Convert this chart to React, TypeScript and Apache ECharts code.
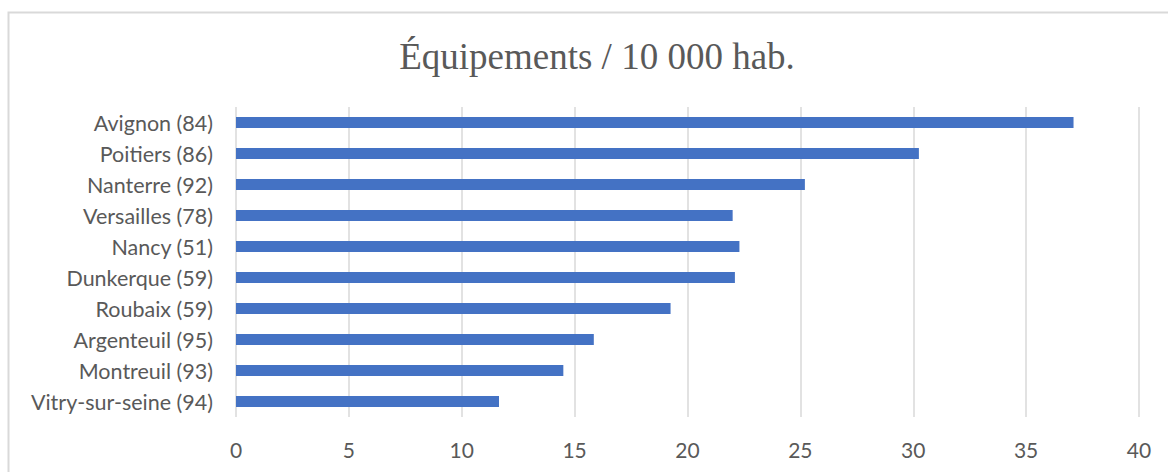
import React, { useEffect, useRef } from "react";
import * as echarts from "echarts";

const TITLE = "Équipements / 10 000 hab.";
const categories = [
  "Avignon (84)",
  "Poitiers (86)",
  "Nanterre (92)",
  "Versailles (78)",
  "Nancy (51)",
  "Dunkerque (59)",
  "Roubaix (59)",
  "Argenteuil (95)",
  "Montreuil (93)",
  "Vitry-sur-seine (94)",
];
const values = [37.1, 30.25, 25.2, 22.0, 22.3, 22.1, 19.25, 15.85, 14.5, 11.65];
const xMin = 0;
const xMax = 40;
const xStep = 5;

export default function App() {
  const ref = useRef<HTMLDivElement>(null);
  useEffect(() => {
    if (!ref.current) return;
    const chart = echarts.init(ref.current, undefined, { renderer: "svg" });
    chart.setOption({
      animation: false,
      backgroundColor: "#ffffff",
      title: {
        text: TITLE,
        left: 592,
        textAlign: "center",
        top: 33,
        textStyle: {
          fontFamily: "Liberation Serif",
          fontSize: 37,
          fontWeight: "normal",
          color: "#595959",
        },
      },
      graphic: [
        {
          type: "rect",
          shape: { x: 8.5, y: 12.5, width: 1200, height: 500 },
          style: { fill: "none", stroke: "#d9d9d9", lineWidth: 2 },
          silent: true,
          z: -1,
        },
      ],
      grid: { left: 236, right: 29, top: 107, bottom: 55, containLabel: false },
      xAxis: {
        type: "value",
        min: xMin,
        max: xMax,
        interval: xStep,
        axisLine: { show: false },
        axisTick: { show: false },
        splitLine: { show: true, lineStyle: { color: "#d9d9d9", width: 1.5 } },
        axisLabel: {
          margin: 22,
          fontFamily: "Lato",
          fontSize: 21,
          color: "#595959",
        },
      },
      yAxis: {
        type: "category",
        data: categories,
        inverse: true,
        axisLine: { show: false },
        axisTick: { show: false },
        axisLabel: {
          margin: 23,
          fontFamily: "Lato",
          fontSize: 21.5,
          color: "#595959",
        },
      },
      series: [
        {
          type: "bar",
          data: values,
          barWidth: 11,
          itemStyle: { color: "#4472C4" },
        },
      ],
    });
    return () => chart.dispose();
  }, []);
  return (
    <div
      ref={ref}
      style={{ position: "fixed", left: 0, top: 0, width: 1168, height: 472 }}
    />
  );
}
